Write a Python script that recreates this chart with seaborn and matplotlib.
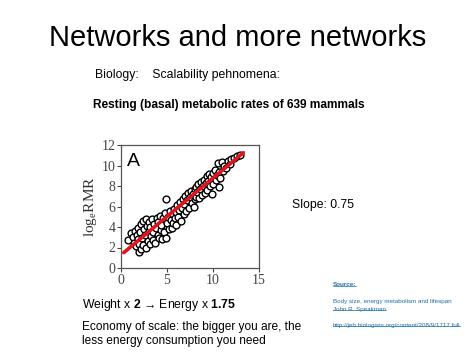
import numpy
import pandas
import seaborn as sns
import matplotlib.pyplot as plt
from matplotlib.lines import Line2D


# Body mass (log) vs resting metabolic rate (log).
body_mass = [
    0.8, 1.1, 1.3, 1.4, 1.5, 1.6, 1.7, 1.8, 1.9, 2.0, 2.0, 2.1, 2.2, 2.2, 2.3, 2.4, 2.4,
    2.5, 2.6, 2.7, 2.7, 2.8, 2.9, 3.0, 3.0, 3.1, 3.2, 3.3, 3.4, 3.5, 3.5, 3.6, 3.7, 3.8, 3.9, 4.0, 4.0,
    4.1, 4.2, 4.3, 4.4, 4.5, 4.6, 4.7, 4.8, 4.9, 4.9, 5.0, 5.1, 5.2, 5.3, 5.4, 5.5, 5.6, 5.7, 5.8, 5.9, 6.0, 6.0,
    6.1, 6.2, 6.3, 6.4, 6.5, 6.6, 6.7, 6.8, 6.9, 7.0, 7.1, 7.2, 7.3, 7.4, 7.5, 7.6, 7.7, 7.8, 7.9, 8.0, 8.0,
    8.1, 8.2, 8.3, 8.4, 8.5, 8.6, 8.7, 8.8, 8.9, 9.0, 9.1, 9.2, 9.3, 9.4, 9.5, 9.6, 9.7, 9.8, 9.9, 10.0, 10.0,
    10.2, 10.3, 10.4, 10.5, 10.6, 10.7, 10.8, 11.0, 11.1, 11.2, 11.4, 11.6, 11.8, 12.0, 12.3, 12.6, 12.9,
]
log_rmr = [
    2.7, 3.4, 3.0, 2.4, 3.6, 2.1, 3.2, 2.8, 3.9, 1.6, 2.3, 3.5, 4.3, 1.9, 2.9, 4.6, 2.2,
    3.8, 3.2, 4.8, 2.0, 4.1, 2.6, 3.6, 4.5, 2.3, 4.0, 3.1, 4.8, 2.7, 3.5, 4.3, 2.4, 3.9, 4.9, 3.2, 4.5,
    2.9, 5.1, 3.7, 4.2, 2.8, 4.9, 3.5, 5.4, 6.7, 2.9, 4.4, 5.0, 3.8, 5.6, 4.7, 3.9, 5.3, 4.4, 5.8, 4.9, 5.5, 4.2,
    6.1, 5.0, 5.7, 6.4, 4.6, 5.9, 6.7, 5.3, 6.2, 7.0, 5.6, 6.6, 7.3, 5.9, 6.9, 7.5, 6.3, 7.2, 6.0, 7.7, 6.7,
    7.9, 6.9, 7.4, 8.2, 6.8, 7.7, 8.4, 7.1, 8.0, 8.6, 7.3, 8.3, 9.0, 7.6, 8.5, 9.2, 8.0, 8.9, 7.2, 9.3, 8.2,
    9.6, 8.6, 9.1, 10.2, 7.9, 9.4, 8.8, 10.3, 9.5, 10.0, 9.8, 10.4, 10.1, 10.6, 10.7, 10.9, 11.0,
]

# Fitted line (slope 0.75).
fit_x = [0.3, 13.3]
fit_y = [1.5, 11.25]

x_ticks = [0, 5, 10, 15]
y_ticks = [0, 2, 4, 6, 8, 10, 12]


def underline(fig, text, offset = 1.2):
    # Draw a thin line just below a text, like a hyperlink on the slide.
    renderer = fig.canvas.get_renderer()
    bbox = text.get_window_extent(renderer = renderer)
    inv = fig.transFigure.inverted()
    (x0, y0), (x1, _) = inv.transform([(bbox.x0, bbox.y0 + offset), (bbox.x1, bbox.y0 + offset)])
    fig.add_artist(Line2D([x0, x1], [y0, y0], transform = fig.transFigure,
                          color = text.get_color(), linewidth = 0.5))


def plot_metabolic_slide():
    df = pandas.DataFrame({'mass': body_mass, 'rmr': log_rmr})
    fit_df = pandas.DataFrame({'mass': fit_x, 'rmr': fit_y})

    sns.set_style('white')
    plt.rcParams['font.family'] = ['Liberation Sans', 'DejaVu Sans']
    plt.rcParams['text.color'] = 'black'
    plt.rcParams['mathtext.fontset'] = 'custom'
    plt.rcParams['mathtext.rm'] = 'Liberation Sans'
    plt.rcParams['mathtext.bf'] = 'Liberation Sans:bold'

    fig = plt.figure(figsize = (4.77, 3.58), dpi = 100)
    W, H = 477, 358

    def px(x, y):
        return x / W, 1 - y / H

    # Scatter panel placed in pixel coordinates of the slide.
    left, right, top, bottom = 121, 259, 145, 268
    ax = fig.add_axes([left / W, 1 - bottom / H, (right - left) / W, (bottom - top) / H])

    sns.scatterplot(
        data = df, x = 'mass', y = 'rmr', ax = ax,
        s = 24, facecolor = 'white', edgecolor = 'black', linewidth = 1.0,
        marker = 'o', legend = False, zorder = 2
    )
    sns.lineplot(data = fit_df, x = 'mass', y = 'rmr', ax = ax, color = '#e0141e', linewidth = 2.6, zorder = 3)

    ax.set_xlim(0, 15)
    ax.set_ylim(0, 12)
    ax.set_xticks(x_ticks)
    ax.set_yticks(y_ticks)
    ax.set_xlabel('')
    ax.set_ylabel('log$_\\mathregular{e}$RMR', family = 'Liberation Serif', fontsize = 11,
                  color = '#333333', labelpad = 2)
    ax.tick_params(
        axis = 'both', direction = 'out', length = 3, width = 0.8, pad = 1,
        labelsize = 10, colors = '#444444', bottom = True, left = True
    )
    for label in ax.get_xticklabels() + ax.get_yticklabels():
        label.set_family('Liberation Serif')
    for spine in ax.spines.values():
        spine.set_color('#555555')
        spine.set_linewidth(0.9)
    ax.text(0.6, 10.4, 'A', fontsize = 14, color = 'black', ha = 'left', va = 'center')

    # Slide texts.
    fig.text(*px(238, 38), 'Networks and more networks', fontsize = 21, ha = 'center', va = 'center')
    fig.text(*px(95, 75), 'Biology:    Scalability pehnomena:', fontsize = 8.8, ha = 'left', va = 'center')
    fig.text(*px(93, 105), 'Resting (basal) metabolic rates of 639 mammals', fontsize = 8.6,
             fontweight = 'bold', ha = 'left', va = 'center')
    fig.text(*px(292, 205), 'Slope: 0.75', fontsize = 8.8, ha = 'left', va = 'center')

    fig.text(*px(82, 305), 'Weight x $\\mathbf{2}$ \u2192 Energy x $\\mathbf{1.75}$', fontsize = 8.8,
             ha = 'left', va = 'center')
    fig.text(*px(82, 327), 'Economy of scale: the bigger you are, the', fontsize = 8.6, ha = 'left', va = 'center')
    fig.text(*px(82, 341), 'less energy consumption you need', fontsize = 8.6, ha = 'left', va = 'center')

    link = '#1f6fa8'
    source = fig.text(*px(333, 285), 'Source:', fontsize = 4.5, fontweight = 'bold', color = link,
                      ha = 'left', va = 'center')
    fig.text(*px(333, 301), 'Body size, energy metabolism and lifespan', fontsize = 4.5, color = link,
             ha = 'left', va = 'center')
    author = fig.text(*px(333, 309), 'John R. Speakman', fontsize = 4.5, color = link, ha = 'left', va = 'center')
    url = fig.text(*px(333, 325), 'http://jeb.biologists.org/content/208/9/1717.full', fontsize = 4.5,
                   color = link, ha = 'left', va = 'center')
    for t in (source, author, url):
        underline(fig, t)

    fig.savefig('out.png', dpi = 100, facecolor = 'white')

    return


plot_metabolic_slide()
